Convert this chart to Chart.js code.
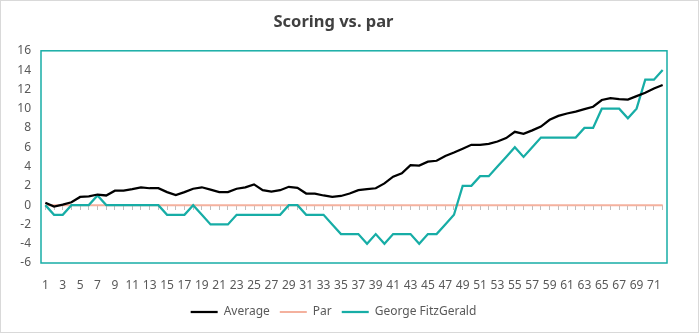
<!DOCTYPE html>
<html>
<head>
<meta charset="utf-8">
<script src="https://cdn.jsdelivr.net/npm/chart.js@4.4.1/dist/chart.umd.min.js"></script>
<style>
  html, body { margin: 0; padding: 0; background: #ffffff; }
  #wrap { position: relative; width: 699px; height: 333px; }
  canvas { display: block; }
</style>
</head>
<body>
<div id="wrap"><canvas id="c" width="699" height="333"></canvas></div>
<script>
const holes = ['1','2','3','4','5','6','7','8','9','10','11','12','13','14','15','16','17','18','19','20','21','22','23','24','25','26','27','28','29','30','31','32','33','34','35','36','37','38','39','40','41','42','43','44','45','46','47','48','49','50','51','52','53','54','55','56','57','58','59','60','61','62','63','64','65','66','67','68','69','70','71','72'];

const average = [0.25,-0.15,0.05,0.3,0.85,0.9,1.1,1.0,1.5,1.5,1.65,1.85,1.75,1.75,1.35,1.05,1.35,1.7,1.85,1.6,1.35,1.35,1.7,1.85,2.15,1.55,1.4,1.55,1.9,1.8,1.2,1.2,1.0,0.85,0.95,1.2,1.55,1.65,1.75,2.25,2.95,3.3,4.15,4.1,4.5,4.6,5.1,5.45,5.85,6.25,6.25,6.35,6.6,6.95,7.6,7.4,7.75,8.15,8.85,9.25,9.5,9.7,9.95,10.2,10.9,11.1,11.0,10.95,11.3,11.65,12.1,12.45];

const par = [0,0,0,0,0,0,0,0,0,0,0,0,0,0,0,0,0,0,0,0,0,0,0,0,0,0,0,0,0,0,0,0,0,0,0,0,0,0,0,0,0,0,0,0,0,0,0,0,0,0,0,0,0,0,0,0,0,0,0,0,0,0,0,0,0,0,0,0,0,0,0,0];

const george = [0,-1,-1,0,0,0,1,0,0,0,0,0,0,0,-1,-1,-1,0,-1,-2,-2,-2,-1,-1,-1,-1,-1,-1,0,0,-1,-1,-1,-2,-3,-3,-3,-4,-3,-4,-3,-3,-3,-4,-3,-3,-2,-1,2,2,3,3,4,5,6,5,6,7,7,7,7,7,8,8,10,10,10,9,10,13,13,14];

const yTicks = [-6,-4,-2,0,2,4,6,8,10,12,14,16];

const TEAL = '#17ADA6';
const BLACK = '#000000';
const SALMON = '#F4B19E';
const TXT = '#595959';
const FONT = "'Noto Sans', 'Open Sans', sans-serif";

const frame = {
  id: 'frame',
  afterDatasetsDraw(chart) {
    const {ctx, chartArea: a} = chart;
    ctx.save();
    ctx.strokeStyle = TEAL;
    ctx.lineWidth = 1.5;
    ctx.strokeRect(a.left, a.top, a.right - a.left, a.bottom - a.top);
    ctx.restore();
  },
  afterDraw(chart) {
    const ctx = chart.ctx;
    ctx.save();
    ctx.strokeStyle = '#D9D9D9';
    ctx.lineWidth = 1;
    ctx.strokeRect(0.5, 0.5, chart.width - 1, chart.height - 1);
    ctx.restore();
  }
};

new Chart(document.getElementById('c'), {
  type: 'line',
  data: {
    labels: holes,
    datasets: [
      { label: 'Average', data: average, borderColor: BLACK, backgroundColor: BLACK, borderWidth: 2.25, pointRadius: 0, tension: 0, order: 1 },
      { label: 'Par', data: par, borderColor: SALMON, backgroundColor: SALMON, borderWidth: 2, pointRadius: 0, tension: 0, order: 3 },
      { label: 'George FitzGerald', data: george, borderColor: TEAL, backgroundColor: TEAL, borderWidth: 2.25, pointRadius: 0, tension: 0, order: 2 }
    ]
  },
  options: {
    responsive: false,
    animation: false,
    devicePixelRatio: 1,
    layout: { padding: { left: 0, right: 32, top: 0, bottom: 5 } },
    plugins: {
      title: {
        display: true,
        text: 'Scoring vs. par',
        color: '#404040',
        font: { family: FONT, size: 16.5, weight: 'bold' },
        padding: { top: 12, bottom: 19 }
      },
      legend: {
        position: 'bottom',
        labels: {
          usePointStyle: true,
          pointStyle: 'line',
          pointStyleWidth: 27,
          color: TXT,
          font: { family: FONT, size: 12 },
          padding: 10,
          sort: (a, b) => a.datasetIndex - b.datasetIndex
        }
      },
      tooltip: { enabled: false }
    },
    scales: {
      x: {
        type: 'category',
        offset: true,
        grid: { display: false, drawTicks: false },
        border: { display: false },
        afterFit: (s) => { s.height = 33; },
        ticks: {
          autoSkip: false,
          maxRotation: 0,
          minRotation: 0,
          padding: 15,
          color: TXT,
          font: { family: FONT, size: 12 },
          callback: function(v, i) { return i % 2 === 0 ? this.getLabelForValue(v) : ''; }
        }
      },
      x2: {
        type: 'category',
        axis: 'x',
        labels: holes,
        offset: true,
        position: { y: 0 },
        afterFit: (s) => { s.height = 0; },
        grid: { display: true, drawOnChartArea: false, drawTicks: true, tickLength: 5, color: '#BFBFBF', lineWidth: 1 },
        border: { display: false },
        ticks: { display: false, autoSkip: false }
      },
      y: {
        min: -6,
        max: 16,
        afterBuildTicks: (s) => { s.ticks = yTicks.map(v => ({ value: v })); },
        afterFit: (s) => { s.width = 41; },
        grid: { display: false, drawTicks: false },
        border: { display: false },
        ticks: {
          autoSkip: false,
          padding: 10,
          color: TXT,
          font: { family: FONT, size: 12 }
        }
      }
    }
  },
  plugins: [frame]
});
</script>
</body>
</html>
